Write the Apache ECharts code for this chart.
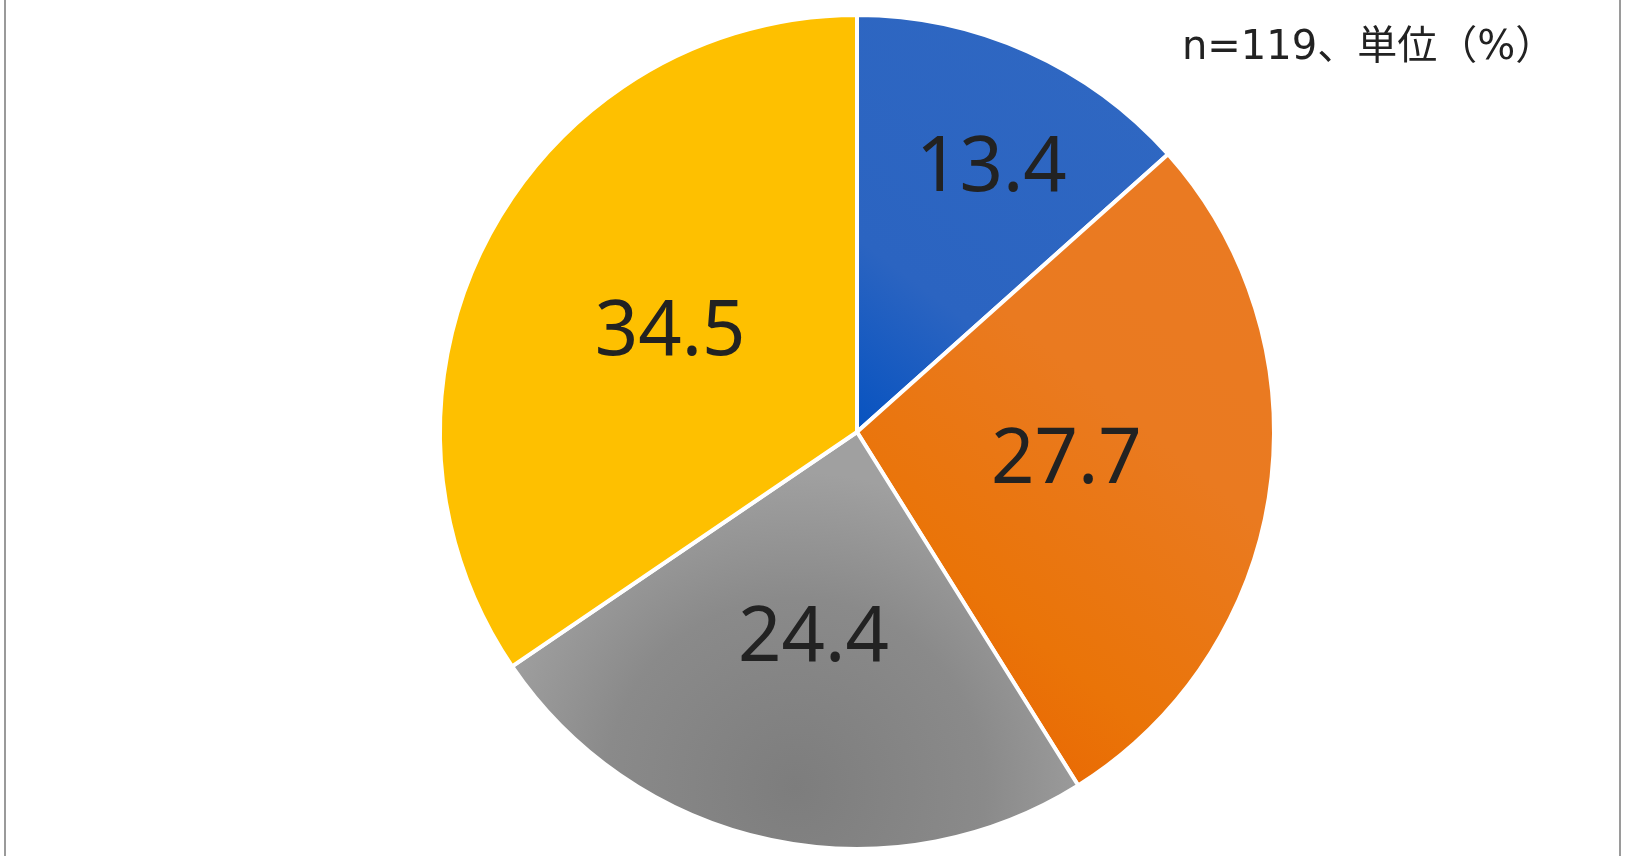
<!DOCTYPE html>
<html>
<head>
<meta charset="utf-8">
<script src="https://cdn.jsdelivr.net/npm/echarts@6/dist/echarts.min.js"></script>
<style>
html,body{margin:0;padding:0;background:#fff;}
#main{width:1626px;height:856px;}
</style>
</head>
<body>
<div id="main"></div>
<script>
// Data
const categories = ['A', 'B', 'C', 'D'];
const values = [13.4, 27.7, 24.4, 34.5];
const noteText = 'n=119、単位（%）';

const colors = [
  {type:'linear', x:0, y:1, x2:1, y2:0, colorStops:[{offset:0,color:'#0652C0'},{offset:0.3,color:'#2B64C1'},{offset:1,color:'#3068C2'}]},
  {type:'linear', x:0, y:1, x2:1, y2:0.2, colorStops:[{offset:0,color:'#E85E00'},{offset:0.35,color:'#EA7408'},{offset:0.7,color:'#EA7A20'},{offset:1,color:'#EA7A22'}]},
  {type:'radial', x:0.5, y:0.85, r:0.75, colorStops:[{offset:0,color:'#7D7D7D'},{offset:0.6,color:'#8A8A8A'},{offset:1,color:'#A0A0A0'}]},
  '#FEC000'
];

const labelOffsets = [[48,-70],[0,0],[0,0],[0,0]];

const chart = echarts.init(document.getElementById('main'));
chart.setOption({
  backgroundColor:'#fff',
  animation:false,
  graphic:[
    {type:'rect', shape:{x:4, y:0, width:2, height:856}, style:{fill:'#9a9a9a'}},
    {type:'rect', shape:{x:1619, y:0, width:2, height:856}, style:{fill:'#9a9a9a'}},
    {type:'text', left:1182, top:29, style:{text:noteText, font:'40px "DejaVu Sans", "Noto Sans CJK JP"', fill:'#222'}}
  ],
  series:[{
    type:'pie',
    center:[857,432],
    radius:[0,417],
    startAngle:90,
    clockwise:true,
    label:{show:true, position:'inside', formatter:(p)=>p.value.toFixed(1), fontFamily:'Noto Sans', fontSize:76, color:'#222', fontWeight:'normal'},
    labelLine:{show:false},
    itemStyle:{borderColor:'#fff', borderWidth:4},
    emphasis:{disabled:true},
    data: categories.map((c,i)=>({name:c, value:values[i], itemStyle:{color:colors[i]}, label:{offset:labelOffsets[i]}}))
  }]
});
</script>
</body>
</html>
